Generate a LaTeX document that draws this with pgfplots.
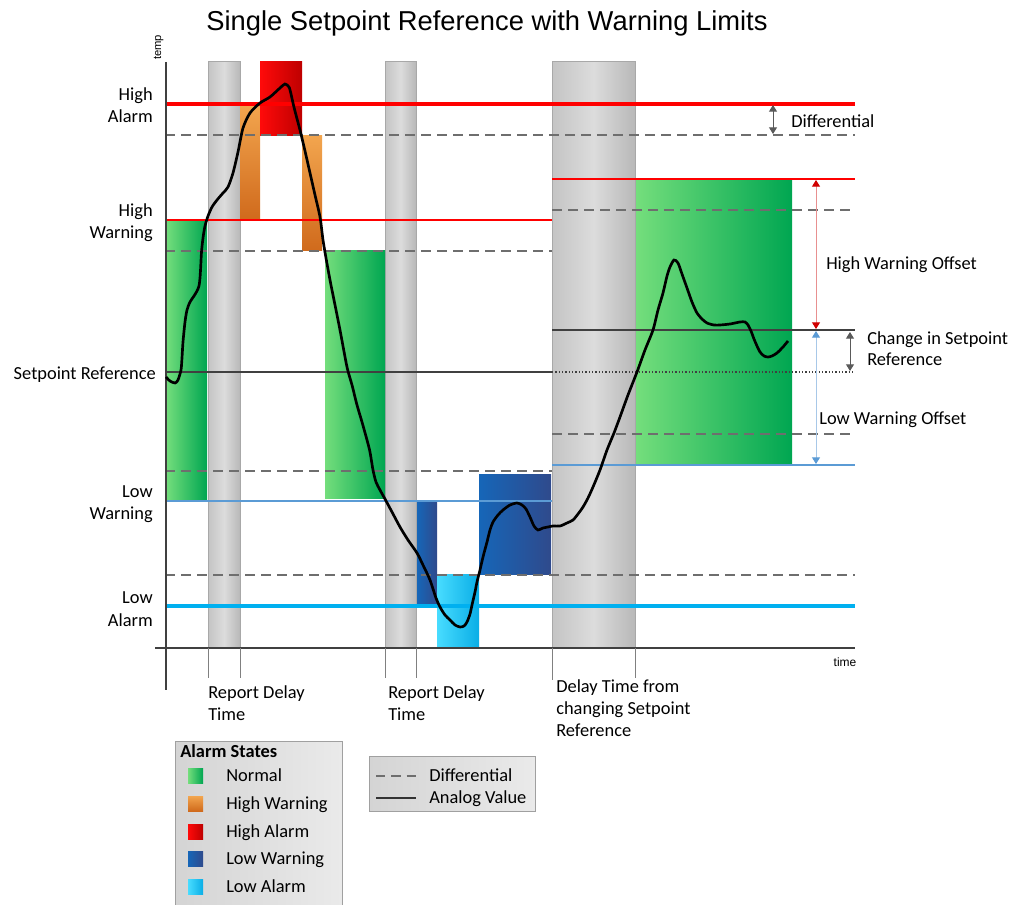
\documentclass[border=0pt]{standalone}
\usepackage{fontspec}
\setmainfont{Carlito}
\newfontfamily\arialfont{Liberation Sans}
\usepackage{pgfplots}
\pgfplotsset{compat=1.18}
\usetikzlibrary{arrows.meta}
\definecolor{barL}{HTML}{C4C4C4}
\definecolor{barM}{HTML}{DCDCDC}
\definecolor{barR}{HTML}{B8B8B8}
\definecolor{barB}{HTML}{A8A8A8}
\definecolor{grL}{HTML}{74DE7C}
\definecolor{grR}{HTML}{00A651}
\definecolor{orL}{HTML}{F2A54E}
\definecolor{orR}{HTML}{D06A1C}
\definecolor{rdL}{HTML}{FF0A0A}
\definecolor{rdR}{HTML}{BE0000}
\definecolor{dbL}{HTML}{1666B8}
\definecolor{dbR}{HTML}{2F4A8C}
\definecolor{lbL}{HTML}{48DCFF}
\definecolor{lbR}{HTML}{0AAEE6}
\definecolor{hiRed}{HTML}{FF0000}
\definecolor{loBlue}{HTML}{00B0F0}
\definecolor{lwBlue}{HTML}{5B9BD5}
\definecolor{spGray}{HTML}{404040}
\definecolor{dashGray}{HTML}{6E6E6E}
\definecolor{axGray}{HTML}{404040}
\definecolor{arrGray}{HTML}{5A5A5A}
\definecolor{hwLine}{HTML}{E89090}
\definecolor{hwTip}{HTML}{D00000}
\definecolor{lwLine}{HTML}{A8C8E8}
\definecolor{legL}{HTML}{D4D4D4}
\definecolor{legR}{HTML}{EAEAEA}
\definecolor{legB}{HTML}{A0A0A0}
\newcommand\lf{\fontsize{13.8}{16.5}\selectfont}
\newcommand\rect[5]{\addplot[draw=none,#5] coordinates {(#1,#2) (#3,#2) (#3,#4) (#1,#4)} -- cycle;}
\begin{document}
\begin{tikzpicture}
\begin{axis}[width=758.25pt,height=678.75pt,scale only axis,
  xmin=0,xmax=1011,ymin=0,ymax=905,y dir=reverse,hide axis,clip=false]
% gray delay bars
\addplot[draw=barB,line width=0.75pt,left color=barL,right color=barR,middle color=barM] coordinates {(208,62) (240,62) (240,648) (208,648)} -- cycle;
\addplot[draw=barB,line width=0.75pt,left color=barL,right color=barR,middle color=barM] coordinates {(385,62) (416,62) (416,648) (385,648)} -- cycle;
\addplot[draw=barB,line width=0.75pt,left color=barL,right color=barR,middle color=barM] coordinates {(552,62) (635,62) (635,648) (552,648)} -- cycle;
% alarm state boxes
\rect{166}{220}{207}{501}{left color=grL,right color=grR}
\rect{240}{105}{260}{220}{top color=orL,bottom color=orR}
\rect{260}{62}{302}{136}{left color=rdL,right color=rdR}
\rect{302}{136}{322}{251}{top color=orL,bottom color=orR}
\rect{325}{251}{385}{499}{left color=grL,right color=grR}
\rect{417}{501}{437}{604}{left color=dbL,right color=dbR}
\rect{437}{575}{479}{648}{left color=lbL,right color=lbR}
\rect{479}{475}{551}{575}{left color=dbL,right color=dbR}
\rect{636}{179}{792}{465}{left color=grL,right color=grR}
% limit lines
\addplot[hiRed,line width=1pt] coordinates {(165,220) (552,220)};
\addplot[hiRed,line width=1pt] coordinates {(552,179) (855,179)};
\addplot[lwBlue,line width=1.1pt] coordinates {(165,501) (552,501)};
\addplot[lwBlue,line width=1.1pt] coordinates {(552,465) (855,465)};
\addplot[dashGray,line width=1.1pt,dash pattern=on 7.5pt off 4.5pt] coordinates {(165,135) (855,135)};
\addplot[dashGray,line width=1.1pt,dash pattern=on 7.5pt off 4.5pt] coordinates {(165,251) (552,251)};
\addplot[dashGray,line width=1.1pt,dash pattern=on 7.5pt off 4.5pt] coordinates {(165,471) (552,471)};
\addplot[dashGray,line width=1.1pt,dash pattern=on 7.5pt off 4.5pt] coordinates {(552,210) (855,210)};
\addplot[dashGray,line width=1.1pt,dash pattern=on 7.5pt off 4.5pt] coordinates {(552,434) (855,434)};
\addplot[dashGray,line width=1.1pt,dash pattern=on 7.5pt off 4.5pt] coordinates {(165,575) (855,575)};
\addplot[spGray,line width=1.7pt] coordinates {(165,372) (552,372)};
\addplot[spGray,line width=1.7pt] coordinates {(552,330) (855,330)};
\addplot[spGray,line width=0.9pt,dash pattern=on 1pt off 1.5pt] coordinates {(552,372) (855,372)};
\addplot[hiRed,line width=3.3pt] coordinates {(165,104) (855,104)};
\addplot[loBlue,line width=3.3pt] coordinates {(165,606) (855,606)};
% axes
\addplot[axGray,line width=1.3pt] coordinates {(166,62) (166,690)};
\addplot[axGray,line width=1.1pt] coordinates {(155,648) (855,648)};
\addplot[gray,line width=0.75pt] coordinates {(208,648) (208,678)};
\addplot[gray,line width=0.75pt] coordinates {(240,648) (240,678)};
\addplot[gray,line width=0.75pt] coordinates {(385,648) (385,678)};
\addplot[gray,line width=0.75pt] coordinates {(416,648) (416,678)};
\addplot[gray,line width=0.75pt] coordinates {(552,648) (552,680)};
\addplot[gray,line width=0.75pt] coordinates {(635,648) (635,678)};
% arrows
\addplot[arrGray,line width=0.75pt,arrows={Triangle[width=6pt,length=5pt]-Triangle[width=6pt,length=5pt]}] coordinates {(773,105) (773,134)};
\addplot[hwLine,line width=0.75pt,arrows={Triangle[width=6pt,length=5pt,color=hwTip]-Triangle[width=6pt,length=5pt,color=hwTip]}] coordinates {(816,180) (816,329)};
\addplot[lwLine,line width=0.75pt,arrows={Triangle[width=6pt,length=5pt,color=lwBlue]-Triangle[width=6pt,length=5pt,color=lwBlue]}] coordinates {(816,331) (816,464)};
\addplot[arrGray,line width=0.75pt,arrows={Triangle[width=6pt,length=5pt]-Triangle[width=6pt,length=5pt]}] coordinates {(850,332) (850,371)};
% analog value
\addplot[black,line width=2pt,smooth,tension=0.45] coordinates {
(166,377) (170,381) (175,383) (178,380) (181,370) (182,358) (183,342) (185,322) (187,310) (190,302) (194,296) (197,291) (199,286) (200,278) (200.7,267) (201.5,252) (203,238) (205,226) (208,216) (212,207) (217,200) (223,193) (228,187) (233,173) (238,152) (243,128) (250,113) (260,103) (270,97) (280,88) (285,84) (289,87) (291,94) (293,103) (296,115) (300,130) (305,151) (310,173) (315,195) (320,217) (323,240) (326,258) (330,280) (334,300) (340,330) (347,367) (352,385) (357,405) (362,422) (367,440) (370,452) (373,470) (376,482) (380,490) (385,499) (392,512) (400,527) (408,540) (417,553) (423,565) (430,580) (436,598) (440,607) (445,615) (450,620) (455,625) (460,627) (464,626) (467,622) (470,614) (472,605) (475,592) (477,582) (480,570) (483,557) (487,542) (490,530) (493,522) (498,515) (503,510) (510,505) (517,503) (522,505) (526,509) (530,517) (534,526) (538,530) (543,528) (548,527) (553,526) (560,526) (567,523) (573,520) (578,514) (583,507) (588,498) (593,487) (600,470) (607,450) (614,433) (620,417) (628,395) (637,372) (645,350) (653,330) (658,310) (663,293) (667,276) (670,267) (674,260) (678,263) (682,274) (687,288) (692,302) (697,313) (702,319) (707,323) (714,325) (720,325) (730,324) (740,322) (745,322) (748,325) (751,331) (754,339) (757,346) (760,352) (764,356) (768,357) (772,356) (777,353) (783,347) (788,341)};
% legend boxes
\addplot[draw=legB,line width=0.75pt,left color=legL,right color=legR] coordinates {(175,741) (342,741) (342,905) (175,905)} -- cycle;
\addplot[draw=legB,line width=0.75pt,left color=legL,right color=legR] coordinates {(369,756) (535,756) (535,811) (369,811)} -- cycle;
\rect{188}{768}{203}{783}{left color=grL,right color=grR}
\rect{188}{796}{203}{811}{top color=orL,bottom color=orR}
\rect{188}{824}{203}{839}{left color=rdL,right color=rdR}
\rect{188}{851}{203}{866}{left color=dbL,right color=dbR}
\rect{188}{879}{203}{894}{left color=lbL,right color=lbR}
\addplot[dashGray,line width=1.1pt,dash pattern=on 7pt off 4.5pt] coordinates {(376,776) (416,776)};
\addplot[black!80,line width=1.5pt] coordinates {(376,798) (416,798)};
% texts
\node[anchor=base,inner sep=0] at (axis cs:487,31) {\arialfont\fontsize{20.5}{24}\selectfont Single Setpoint Reference with Warning Limits};
\node[anchor=base,inner sep=0,rotate=90] at (axis cs:161,47.5) {\arialfont\fontsize{8.4}{10}\selectfont temp};
\node[anchor=base,inner sep=0] at (axis cs:845,666) {\arialfont\fontsize{9}{10}\selectfont time};
\node[anchor=base east,inner sep=0] at (axis cs:153,101) {\lf High};
\node[anchor=base east,inner sep=0] at (axis cs:153,123) {\lf Alarm};
\node[anchor=base east,inner sep=0] at (axis cs:153,217) {\lf High};
\node[anchor=base east,inner sep=0] at (axis cs:153,239) {\lf Warning};
\node[anchor=base east,inner sep=0] at (axis cs:156,380) {\lf Setpoint Reference};
\node[anchor=base east,inner sep=0] at (axis cs:153,498) {\lf Low};
\node[anchor=base east,inner sep=0] at (axis cs:153,520) {\lf Warning};
\node[anchor=base east,inner sep=0] at (axis cs:153,604) {\lf Low};
\node[anchor=base east,inner sep=0] at (axis cs:153,626) {\lf Alarm};
\node[anchor=base west,inner sep=0] at (axis cs:791,128) {\lf Differential};
\node[anchor=base west,inner sep=0] at (axis cs:826,270) {\lf High Warning Offset};
\node[anchor=base west,inner sep=0] at (axis cs:867,345) {\lf Change in Setpoint};
\node[anchor=base west,inner sep=0] at (axis cs:867,366) {\lf Reference};
\node[anchor=base west,inner sep=0] at (axis cs:819,425) {\lf Low Warning Offset};
\node[anchor=base west,inner sep=0] at (axis cs:208,698) {\lf Report Delay};
\node[anchor=base west,inner sep=0] at (axis cs:208,720) {\lf Time};
\node[anchor=base west,inner sep=0] at (axis cs:388,698) {\lf Report Delay};
\node[anchor=base west,inner sep=0] at (axis cs:388,720) {\lf Time};
\node[anchor=base west,inner sep=0] at (axis cs:556,692) {\lf Delay Time from};
\node[anchor=base west,inner sep=0] at (axis cs:556,714) {\lf changing Setpoint};
\node[anchor=base west,inner sep=0] at (axis cs:556,736) {\lf Reference};
\node[anchor=base west,inner sep=0] at (axis cs:180,757) {\lf\bfseries Alarm States};
\node[anchor=base west,inner sep=0] at (axis cs:226,781) {\lf Normal};
\node[anchor=base west,inner sep=0] at (axis cs:226,809) {\lf High Warning};
\node[anchor=base west,inner sep=0] at (axis cs:226,837) {\lf High Alarm};
\node[anchor=base west,inner sep=0] at (axis cs:226,864) {\lf Low Warning};
\node[anchor=base west,inner sep=0] at (axis cs:226,892) {\lf Low Alarm};
\node[anchor=base west,inner sep=0] at (axis cs:429,781) {\lf Differential};
\node[anchor=base west,inner sep=0] at (axis cs:429,803) {\lf Analog Value};
\end{axis}
\pgfresetboundingbox
\path[use as bounding box] (0,0) rectangle (758.25pt,678.75pt);
\end{tikzpicture}
\end{document}
